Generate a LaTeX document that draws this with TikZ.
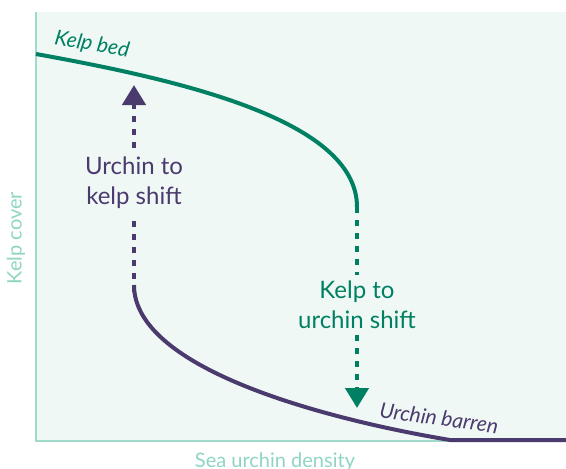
\documentclass[tikz,border=0pt]{standalone}
\usepackage{fontspec}
\setmainfont{Lato}
\usetikzlibrary{arrows.meta}
\definecolor{kelpgreen}{HTML}{008062}
\definecolor{urchinpurple}{HTML}{4B3A6E}
\definecolor{panelbg}{HTML}{EFF8F5}
\definecolor{axiscol}{HTML}{9FDACB}
\definecolor{axistext}{HTML}{8FD5C3}
\tikzset{
  curve/.style={line width=4pt},
  dashline/.style={line width=4.5pt, dash pattern=on 6pt off 7pt},
  tip/.style={-{Triangle[width=23pt,length=20pt]}},
  shiftlabel/.style={align=center, font=\fontsize{24}{30}\selectfont, inner xsep=2pt, inner ysep=6pt},
  curvelabel/.style={font=\itshape\fontsize{21}{24}\selectfont, inner sep=0pt},
  axislabel/.style={font=\fontsize{20}{23}\selectfont, text=axistext, inner sep=0pt},
  axisline/.style={draw=axiscol, line width=2pt}
}
\begin{document}
\begin{tikzpicture}[x=1pt,y=-1pt]
\useasboundingbox (0,0) rectangle (566,469);
\fill[panelbg] (36,12) rectangle (566,441);
\coordinate (yTop) at (36,12);
\coordinate (origin) at (36,441);
\coordinate (xEnd) at (566,441);
\draw[axisline] (yTop) -- (origin) -- (xEnd);
\node[axislabel, rotate=90] (ylab) at (16,238) {Kelp cover};
\node[axislabel, anchor=base] (xlab) at (275,467) {Sea urchin density};

% kelp bed branch
\coordinate (gStart) at (36,54);
\coordinate (gEnd) at (357,207);
\coordinate (gTip) at (357,408);
\node[shiftlabel, text=kelpgreen] (kts) at (357,305) {Kelp to\\urchin shift};
\draw[curve, kelpgreen] (gStart) .. controls (180,80) and (357,120) .. (gEnd);
\draw[dashline, kelpgreen] (gEnd) -- (kts.north);
\draw[dashline, kelpgreen, tip] (kts.south) -- (gTip);
\node[curvelabel, text=kelpgreen, rotate=-10] (kbed) at (92,45) {Kelp bed};

% urchin barren branch
\coordinate (pStart) at (134,285);
\coordinate (pFlat) at (450,440);
\coordinate (pEnd) at (566,440);
\coordinate (pTip) at (134,85);
\node[shiftlabel, text=urchinpurple, inner ysep=8.5pt] (utk) at (134,183) {Urchin to\\kelp shift};
\draw[curve, urchinpurple] (pStart) .. controls (134,370) and (330,420) .. (pFlat) -- (pEnd);
\draw[dashline, urchinpurple] ([yshift=-7pt]pStart) -- (utk.south);
\draw[dashline, urchinpurple, tip] (utk.north) -- (pTip);
\node[curvelabel, text=urchinpurple, rotate=-8] (ubar) at (439,418) {Urchin barren};
\end{tikzpicture}
\end{document}
